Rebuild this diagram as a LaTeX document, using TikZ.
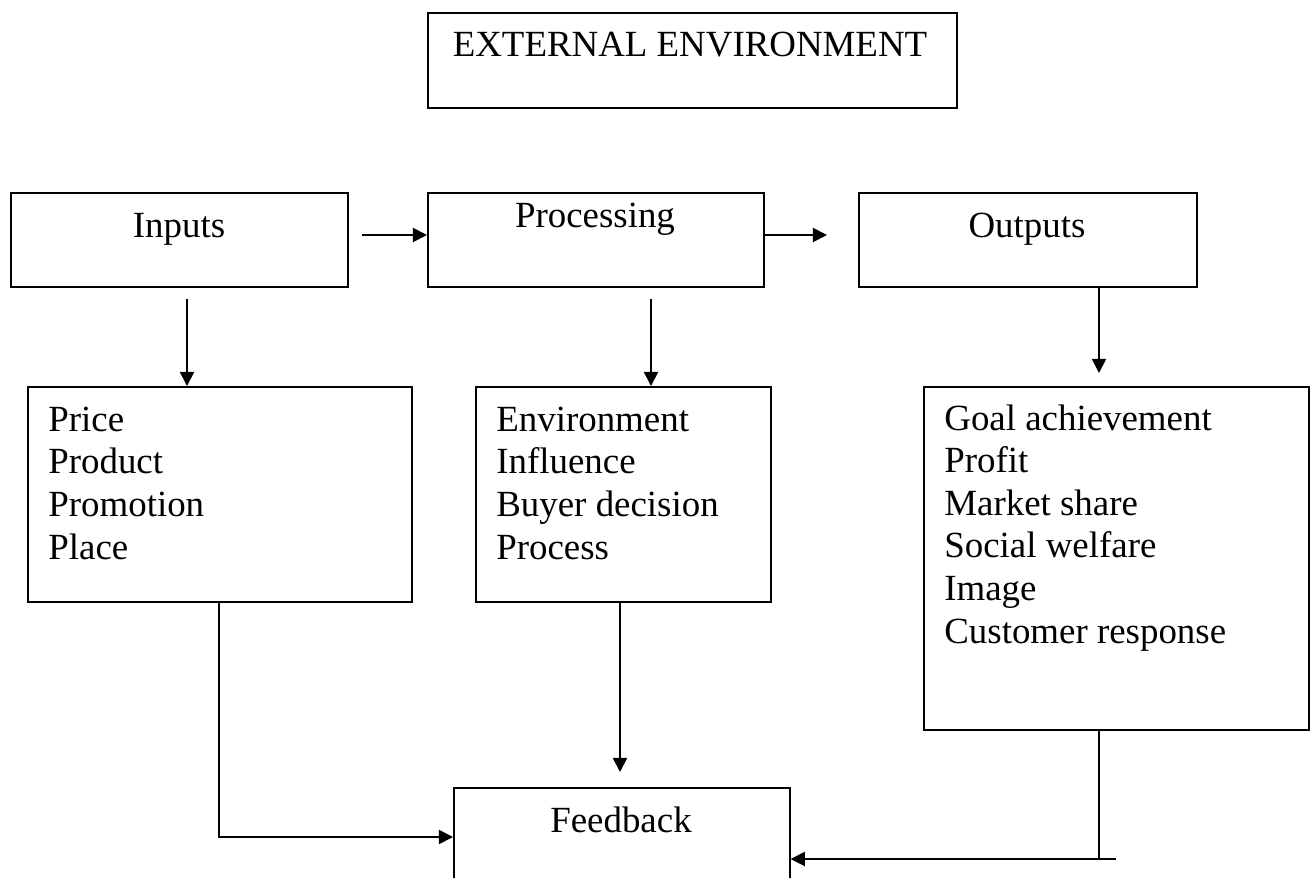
\documentclass[tikz,border=0pt]{standalone}
\usepackage{fontspec}
\setmainfont{Liberation Serif}
\usetikzlibrary{positioning,arrows.meta}

\begin{document}
\begin{tikzpicture}[
x=0.02cm, y=-0.02cm,
squarednode/.style={rectangle, draw=black, line width=1pt, inner sep=0pt, anchor=north west},
headtext/.style={font=\fontsize{21}{24.2}\selectfont, inner sep=0pt, anchor=base},
listtext/.style={font=\fontsize{21}{24.2}\selectfont, inner sep=0pt, anchor=base west, align=left},
flow/.style={line width=1pt, -{Triangle[length=8pt,width=8pt]}}
]
\useasboundingbox (0,0) rectangle (1312,878);
\clip (0,0) rectangle (1312,878);
%Nodes
\node[squarednode, minimum width=10.58cm, minimum height=1.9cm]  (extenv)     at (427,12)  {};
\node[squarednode, minimum width=6.74cm, minimum height=1.88cm]  (inputs)     at (10,192)  {};
\node[squarednode, minimum width=6.72cm, minimum height=1.88cm]  (processing) at (427,192) {};
\node[squarednode, minimum width=6.76cm, minimum height=1.88cm]  (outputs)    at (858,192) {};
\node[squarednode, minimum width=7.68cm, minimum height=4.3cm]   (mix)        at (27,386)  {};
\node[squarednode, minimum width=5.9cm, minimum height=4.3cm]    (influence)  at (475,386) {};
\node[squarednode, minimum width=7.7cm, minimum height=6.86cm]   (goals)      at (923,386) {};
\node[squarednode, minimum width=6.72cm, minimum height=2.4cm]   (feedback)   at (453,787) {};
%Texts (lists sit on the baseline of their last line)
\node[headtext] (extenvtext)     at (690,57)  {EXTERNAL ENVIRONMENT};
\node[headtext] (inputstext)     at (179,238) {Inputs};
\node[headtext] (processingtext) at (595,228) {Processing};
\node[headtext] (outputstext)    at (1027,238) {Outputs};
\node[headtext] (feedbacktext)   at (621,832) {Feedback};
\node[listtext] (mixtext)        at (48,559)  {Price\\Product\\Promotion\\Place};
\node[listtext] (influencetext)  at (496,559) {Environment\\Influence\\Buyer decision\\Process};
\node[listtext] (goalstext)      at (944,643) {Goal achievement\\Profit\\Market share\\Social welfare\\Image\\Customer response};
%Turning points and loose ends
\coordinate (in2proc)  at (362,235);
\coordinate (proc2out) at (827,235);
\coordinate (indrop)   at (187,299);
\coordinate (procdrop) at (651,299);
\coordinate (outdrop)  at (1099,373);
\coordinate (mixfb)    at (219,837);
\coordinate (inffb)    at (620,772);
\coordinate (goalturn) at (1099,859);
\coordinate (goalfb)   at (1116,859);
%Lines
\draw[flow] (in2proc) -- (in2proc -| processing.west);
\draw[flow] (proc2out -| processing.east) -- (proc2out);
\draw[flow] (indrop) -- (indrop |- mix.north);
\draw[flow] (procdrop) -- (procdrop |- influence.north);
\draw[flow] (outdrop |- outputs.south) -- (outdrop);
\draw[flow] (mixfb |- mix.south) -- (mixfb) -- (mixfb -| feedback.west);
\draw[flow] (inffb |- influence.south) -- (inffb);
\draw[line width=1pt] (goalturn |- goals.south) -- (goalturn);
\draw[flow] (goalfb) -- (goalfb -| feedback.east);
\end{tikzpicture}
\end{document}
